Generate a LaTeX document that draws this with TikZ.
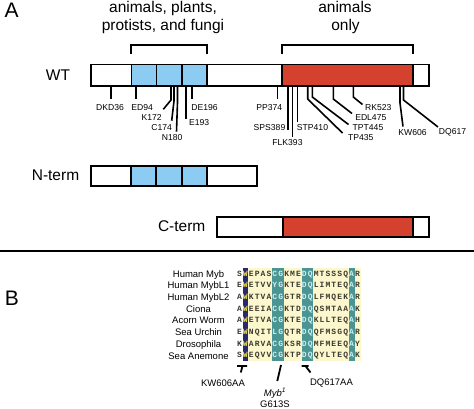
\documentclass[tikz,border=0pt]{standalone}
\usepackage{fontspec}
\setmainfont{Liberation Sans}
\newfontfamily\seqfont{Liberation Mono}
\definecolor{domblue}{HTML}{8CCBF2}
\definecolor{domred}{HTML}{D4412F}
\definecolor{paley}{HTML}{FCF7CD}
\definecolor{navy}{HTML}{28286C}
\definecolor{teal}{HTML}{4A9593}
\definecolor{seqdark}{HTML}{3A3A30}
\definecolor{seqyel}{HTML}{F2E640}
\definecolor{seqlt}{HTML}{CFEFEF}
\newcommand\letcol[1]{\ifcase#1\or\color{seqdark}\or\color{seqyel}\or\color{seqdark}\or\color{seqdark}\or\color{seqdark}\or\color{seqdark}\or\color{seqlt}\or\color{seqlt}\or\color{seqdark}\or\color{seqdark}\or\color{seqdark}\or\color{seqlt}\or\color{seqlt}\or\color{seqdark}\or\color{seqdark}\or\color{seqdark}\or\color{seqdark}\or\color{seqdark}\or\color{seqdark}\or\color{seqlt}\or\color{seqdark}\fi}
\newcommand\seqrow[3]{%
  \node[spec] (sp#1) at (198.5,{#2+3.4}) {#1};
  \foreach \c [count=\i] in {#3} {\node[seqletter] (q#1-\i) at ({236.5+(\i-0.5)*5.9},{#2+2.3}) {\letcol{\i}\c};}}
\tikzset{
  panel/.style={font=\fontsize{21}{24}\selectfont, inner sep=0pt},
  biglab/.style={font=\fontsize{15.5}{18}\selectfont, inner sep=0pt},
  lab/.style={font=\fontsize{8.6}{10}\selectfont, inner sep=0pt},
  blab/.style={font=\fontsize{9.5}{11}\selectfont, inner sep=0pt},
  spec/.style={font=\fontsize{9.5}{11}\selectfont, inner sep=0pt, anchor=base},
  seqletter/.style={font=\seqfont\bfseries\fontsize{8}{9}\selectfont, inner sep=0pt, anchor=base},
  box/.style={draw=black, line width=1.8pt},
  tk/.style={line width=1.6pt},
  mk/.style={line width=1.8pt},
}
\begin{document}
\begin{tikzpicture}[x=1pt,y=-1pt]
\useasboundingbox (0,0) rectangle (474,408);
% ---------- panel A ----------
\node[panel] (A) at (11.7,10.5) {A};
\node[biglab, anchor=base] (t1) at (163,12.5) {animals, plants,};
\node[biglab, anchor=base] (t2) at (163,30) {protists, and fungi};
\node[biglab, anchor=base] (t3) at (345,12.5) {animals};
\node[biglab, anchor=base] (t4) at (345.5,30) {only};
\draw[mk] (130.7,53.5)--(130.7,45)--(206.7,45)--(206.7,53.5);
\draw[mk] (282.3,53.5)--(282.3,45)--(413.3,45)--(413.3,53.5);
% WT bar
\node[biglab] (WT) at (58,75.5) {WT};
\fill[white] (90.7,64.5) rectangle (429,86);
\fill[domblue] (131.5,64.5) rectangle (206.7,86);
\fill[domred] (282.3,64.5) rectangle (413.3,86);
\draw[box] (90.7,64.5) rectangle (429,86);
\draw[box] (131.5,64.5)--(131.5,86) (156.5,64.5)--(156.5,86) (181.7,64.5)--(181.7,86) (206.7,64.5)--(206.7,86);
\draw[box] (282.3,64.5)--(282.3,86) (413.3,64.5)--(413.3,86);
% mutation labels
\node[lab] (DKD36) at (110,107.3) {DKD36};
\node[lab] (ED94) at (142.2,107.3) {ED94};
\node[lab] (K172) at (151.7,117.7) {K172};
\node[lab] (C174) at (161.7,127.7) {C174};
\node[lab] (N180) at (172.2,137.3) {N180};
\node[lab] (E193) at (199.2,122.3) {E193};
\node[lab] (DE196) at (204.5,107.3) {DE196};
\node[lab] (PP374) at (269.3,107.3) {PP374};
\node[lab,anchor=east] (SPS389) at (285.5,127.7) {SPS389};
\node[lab] (FLK393) at (287.5,142.5) {FLK393};
\node[lab] (STP410) at (312.5,127.7) {STP410};
\node[lab] (TP435) at (360.8,137.3) {TP435};
\node[lab] (TPT445) at (368,127.7) {TPT445};
\node[lab] (EDL475) at (370.8,117.7) {EDL475};
\node[lab] (RK523) at (378.3,107.3) {RK523};
\node[lab] (KW606) at (412.5,132.3) {KW606};
\node[lab] (DQ617) at (452.5,132.3) {DQ617};
\draw[tk] (110.7,86)--(110.7,99);
\draw[tk] (136,86)--(136,99);
\draw[tk] (171,86)--(171,100)--(163.3,109.3);
\draw[tk] (174,86)--(174,101)--(171.7,120.7);
\draw[tk] (177.5,86)--(177.5,102)--(176.5,131.7);
\draw[tk] (186,86)--(186,118.5);
\draw[tk] (191.7,86)--(191.7,99);
\draw[tk] (277.3,86)--(277.3,99);
\draw[tk] (287.7,86)--(287.7,129.5);
\draw[tk] (292.3,86)--(292.3,136.5);
\draw[tk] (297.3,86)--(297.3,122);
\draw[tk] (307.7,86)--(307.7,99)--(342.5,133);
\draw[tk] (312.3,86)--(312.3,97)--(348.5,124.5);
\draw[tk] (333.3,86)--(333.3,99)--(352,113.5);
\draw[tk] (353.3,86)--(353.3,97)--(362.5,104.5);
\draw[tk] (400,86)--(400,103)--(403,126.5);
\draw[tk] (403.5,86)--(403.5,100)--(438,127);
% N-term
\node[biglab] (Nterm) at (55.5,175.5) {N-term};
\fill[white] (90.7,165.7) rectangle (257.3,185.7);
\fill[domblue] (131,165.7) rectangle (206.7,185.7);
\draw[box] (90.7,165.7) rectangle (257.3,185.7);
\draw[box] (131,165.7)--(131,185.7) (156,165.7)--(156,185.7) (181.7,165.7)--(181.7,185.7) (206.7,165.7)--(206.7,185.7);
% C-term
\node[biglab] (Cterm) at (181.7,226.5) {C-term};
\fill[white] (216.7,216.7) rectangle (429,236.7);
\fill[domred] (282.7,216.7) rectangle (413.3,236.7);
\draw[box] (216.7,216.7) rectangle (429,236.7);
\draw[box] (282.7,216.7)--(282.7,236.7) (413.3,216.7)--(413.3,236.7);
% separator
\draw[line width=2pt] (0,251) -- (474,251);
% ---------- panel B ----------
\node[panel] (B) at (12,298.5) {B};
\fill[paley] (247.5,267.5) rectangle (360.5,361);
\fill[navy] (242.5,267.5) rectangle (247.5,361);
\fill[teal] (272,267.5) rectangle (283.5,361);
\fill[teal] (301.5,267.5) rectangle (312.5,361);
\fill[teal] (348.8,267.5) rectangle (354.5,361);
\seqrow{Human Myb}{273.7}{S,W,E,P,A,S,C,G,K,M,E,D,Q,M,T,S,S,S,Q,A,R}
\seqrow{Human MybL1}{285.4}{E,W,E,T,V,V,Y,G,K,T,E,D,Q,L,I,M,T,E,Q,A,R}
\seqrow{Human MybL2}{297.1}{A,W,K,T,V,A,C,G,G,T,R,D,Q,L,F,M,Q,E,K,A,R}
\seqrow{Ciona}{308.8}{A,W,E,E,I,A,C,G,K,T,D,D,Q,Q,S,M,T,A,A,A,K}
\seqrow{Acorn Worm}{320.5}{A,W,E,T,V,A,C,G,K,T,E,D,Q,K,L,L,T,E,Q,A,H}
\seqrow{Sea Urchin}{332.2}{E,W,N,Q,I,T,L,G,Q,T,R,D,Q,Q,F,M,S,G,Q,A,R}
\seqrow{Drosophila}{343.9}{K,W,A,R,V,A,C,G,K,S,R,D,Q,M,F,M,E,E,Q,A,Y}
\seqrow{Sea Anemone}{355.6}{S,W,E,Q,V,V,C,G,K,T,P,D,Q,Q,Y,L,T,E,Q,A,K}
% markers
\node[blab] (KWAA) at (223,383) {KW606AA};
\node[blab, anchor=base] (mybI) at (275,396.4) {\textit{Myb}\textsuperscript{\textit{1}}};
\node[blab] (G613S) at (275,404) {G613S};
\node[blab] (DQAA) at (331.5,383) {DQ617AA};
\draw[mk] (237,366)--(247,366) (242.5,366)--(240.8,372.5);
\draw[mk] (281,365)--(277.3,381);
\draw[mk] (301.5,366)--(308.5,366) (305.5,366)--(310.5,372.5);
\end{tikzpicture}
\end{document}
